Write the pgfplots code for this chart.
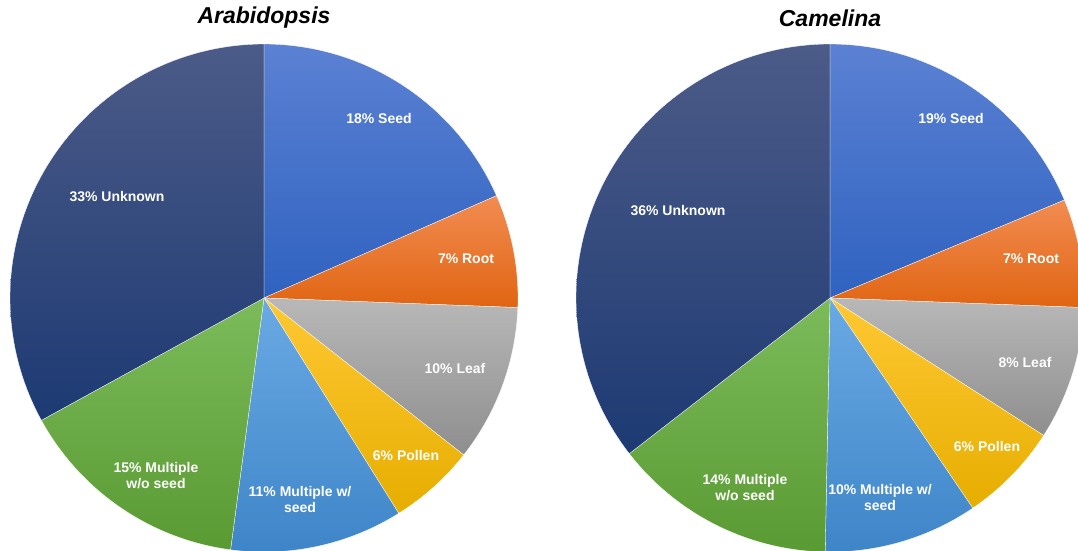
\documentclass[border=0pt]{standalone}
\usepackage{pgfplots}
\pgfplotsset{compat=1.18}
\usepackage{fontspec}
\setmainfont{Liberation Sans}
\definecolor{seedT}{HTML}{5B81D3}\definecolor{seedB}{HTML}{2F62C0}
\definecolor{rootT}{HTML}{F28C52}\definecolor{rootB}{HTML}{E06512}
\definecolor{leafT}{HTML}{B8B8B8}\definecolor{leafB}{HTML}{8E8E8E}
\definecolor{polT}{HTML}{FFC833}\definecolor{polB}{HTML}{E6AE00}
\definecolor{mwT}{HTML}{6AAAE4}\definecolor{mwB}{HTML}{3E85C8}
\definecolor{mwoT}{HTML}{7CBB5A}\definecolor{mwoB}{HTML}{5A9A33}
\definecolor{unkT}{HTML}{4C5B88}\definecolor{unkB}{HTML}{1D3A73}
% #1 cx, #2 cy, #3 start percent, #4 percent, #5 top colour, #6 bottom colour
\newcommand{\slice}[6]{%
  \pgfmathsetmacro\angA{90-3.6*(#3+#4)}%
  \pgfmathsetmacro\angB{90-3.6*(#3)}%
  \addplot[draw=white, line width=0.3pt, top color=#5, bottom color=#6, domain=\angA:\angB, samples=90]
    ({#1+254*cos(x)},{#2+254*sin(x)}) -- (axis cs:#1,#2) -- cycle;
}
\newcommand{\lab}[3]{\node[text=white, font=\fontsize{14}{16}\selectfont\bfseries, align=center] at (axis cs:#1,#2) {#3};}
\begin{document}
\begin{tikzpicture}
\begin{axis}[
  width=1078pt, height=550pt, scale only axis,
  xmin=0, xmax=1078, ymin=0, ymax=550,
  hide axis, clip=true]
% Arabidopsis: Seed 18.4, Root 7.2, Leaf 10.0, Pollen 5.5, Multiple w/ seed 11.0, Multiple w/o seed 14.9, Unknown 33.0
\slice{264}{252}{0}{18.4}{seedT}{seedB}
\slice{264}{252}{18.4}{7.2}{rootT}{rootB}
\slice{264}{252}{25.6}{10.0}{leafT}{leafB}
\slice{264}{252}{35.6}{5.5}{polT}{polB}
\slice{264}{252}{41.1}{11.0}{mwT}{mwB}
\slice{264}{252}{52.1}{14.9}{mwoT}{mwoB}
\slice{264}{252}{67.0}{33.0}{unkT}{unkB}
% Camelina: Seed 18.7, Root 6.9, Leaf 8.5, Pollen 6.4, Multiple w/ seed 9.8, Multiple w/o seed 14.2, Unknown 35.5
\slice{830}{252}{0}{18.7}{seedT}{seedB}
\slice{830}{252}{18.7}{6.9}{rootT}{rootB}
\slice{830}{252}{25.6}{8.5}{leafT}{leafB}
\slice{830}{252}{34.1}{6.4}{polT}{polB}
\slice{830}{252}{40.5}{9.8}{mwT}{mwB}
\slice{830}{252}{50.3}{14.2}{mwoT}{mwoB}
\slice{830}{252}{64.5}{35.5}{unkT}{unkB}
% labels
\lab{379}{432}{18\% Seed}
\lab{466}{291}{7\% Root}
\lab{455}{182}{10\% Leaf}
\lab{406}{95}{6\% Pollen}
\lab{300}{51}{11\% Multiple w/\\seed}
\lab{156}{74}{15\% Multiple\\w/o seed}
\lab{117}{353}{33\% Unknown}
\lab{951}{432}{19\% Seed}
\lab{1031}{291}{7\% Root}
\lab{1025}{188}{8\% Leaf}
\lab{987}{104}{6\% Pollen}
\lab{880}{53}{10\% Multiple w/\\seed}
\lab{745}{62}{14\% Multiple\\w/o seed}
\lab{678}{339}{36\% Unknown}
\node[font=\fontsize{23}{27}\selectfont\bfseries\itshape] at (axis cs:264,532) {Arabidopsis};
\node[font=\fontsize{23}{27}\selectfont\bfseries\itshape] at (axis cs:830,532) {Camelina};
\end{axis}
\pgfresetboundingbox
\path[use as bounding box] (current axis.south west) rectangle (current axis.north east);
\end{tikzpicture}
\end{document}
